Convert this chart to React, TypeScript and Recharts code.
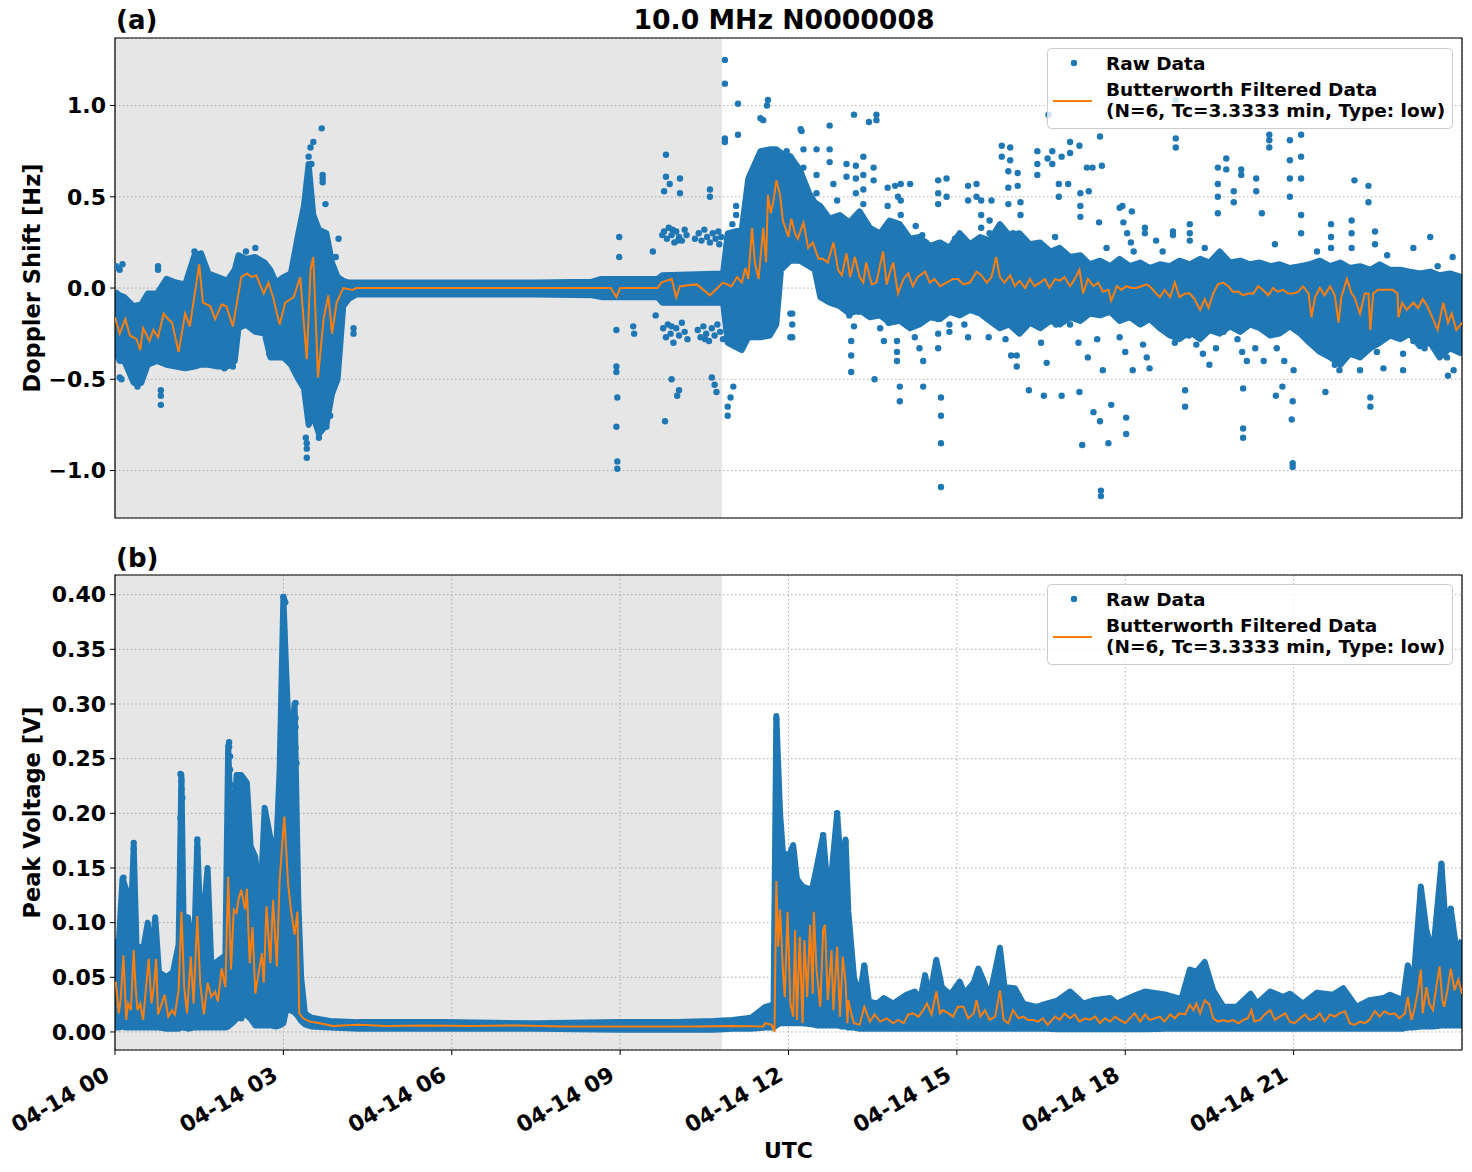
import React from 'react';
import {
  ComposedChart,
  Area,
  Line,
  Scatter,
  XAxis,
  YAxis,
  CartesianGrid,
  ReferenceArea,
} from 'recharts';

const FONT = '"DejaVu Sans", "Liberation Sans", sans-serif';
const BLUE = '#1f77b4';
const ORANGE = '#ff7f0e';

// x axis is minutes after 04-14 00:00 UTC
const hourTicks = [0, 180, 360, 540, 720, 900, 1080, 1260];
const hourLabels = ['04-14 00', '04-14 03', '04-14 06', '04-14 09', '04-14 12', '04-14 15', '04-14 18', '04-14 21'];
const nightEnd = 649;

const dopplerTicks = [-1.0, -0.5, 0.0, 0.5, 1.0];
const voltageTicks = [0, 0.05, 0.1, 0.15, 0.2, 0.25, 0.3, 0.35, 0.4];

// Doppler shift: dense raw-data envelope [minute, low, high]
const dopplerBand: [number, number, number][] = [
  [0, -0.34, -0.02], [5, -0.40, -0.04], [10, -0.40, -0.05], [20, -0.52, -0.10], [28, -0.52, -0.09],
  [35, -0.42, -0.03], [45, -0.40, -0.03], [55, -0.42, 0.05], [65, -0.43, 0.03], [75, -0.44, 0.02],
  [85, -0.43, 0.18], [92, -0.42, 0.19], [100, -0.42, 0.08], [110, -0.43, 0.06], [120, -0.43, 0.04],
  [128, -0.40, 0.10], [132, -0.22, 0.18], [140, -0.20, 0.16], [150, -0.24, 0.17], [160, -0.25, 0.14],
  [166, -0.38, 0.10], [172, -0.38, 0.03], [180, -0.38, 0.06], [188, -0.42, 0.08], [196, -0.50, 0.30],
  [202, -0.55, 0.45], [207, -0.75, 0.68], [212, -0.70, 0.40], [218, -0.80, 0.32], [226, -0.75, 0.30],
  [232, -0.58, 0.14], [238, -0.50, 0.06], [244, -0.10, 0.04], [250, -0.06, 0.03], [258, -0.035, 0.03],
  [350, -0.035, 0.03], [450, -0.035, 0.03], [510, -0.04, 0.035], [520, -0.05, 0.05], [580, -0.05, 0.05],
  [585, -0.08, 0.07], [650, -0.08, 0.08], [655, -0.30, 0.30], [670, -0.34, 0.32], [677, -0.27, 0.60],
  [690, -0.27, 0.75], [700, -0.26, 0.76], [707, -0.20, 0.76], [712, 0.10, 0.74], [722, 0.15, 0.72],
  [732, 0.15, 0.65], [742, 0.12, 0.52], [748, 0.10, 0.47], [754, -0.05, 0.45], [764, -0.08, 0.38],
  [775, -0.10, 0.40], [785, -0.14, 0.36], [796, -0.12, 0.42], [807, -0.16, 0.33], [818, -0.15, 0.30],
  [828, -0.19, 0.37], [839, -0.18, 0.35], [850, -0.22, 0.27], [860, -0.20, 0.28], [871, -0.16, 0.23],
  [882, -0.17, 0.25], [892, -0.13, 0.22], [903, -0.15, 0.30], [914, -0.12, 0.24], [925, -0.14, 0.28],
  [935, -0.18, 0.26], [946, -0.22, 0.35], [956, -0.20, 0.29], [967, -0.25, 0.30], [978, -0.19, 0.24],
  [989, -0.22, 0.25], [1000, -0.18, 0.20], [1010, -0.20, 0.22], [1021, -0.16, 0.17], [1032, -0.18, 0.18],
  [1042, -0.14, 0.13], [1053, -0.15, 0.15], [1064, -0.13, 0.12], [1074, -0.18, 0.16], [1085, -0.16, 0.12],
  [1096, -0.20, 0.14], [1106, -0.17, 0.11], [1117, -0.22, 0.13], [1128, -0.26, 0.12], [1138, -0.28, 0.15],
  [1149, -0.24, 0.13], [1160, -0.28, 0.16], [1170, -0.23, 0.14], [1181, -0.25, 0.20], [1192, -0.21, 0.14],
  [1203, -0.24, 0.15], [1213, -0.20, 0.13], [1224, -0.22, 0.14], [1235, -0.26, 0.12], [1245, -0.25, 0.13],
  [1256, -0.21, 0.11], [1267, -0.25, 0.12], [1277, -0.30, 0.13], [1288, -0.35, 0.15], [1299, -0.38, 0.12],
  [1310, -0.42, 0.14], [1320, -0.36, 0.11], [1331, -0.38, 0.12], [1342, -0.33, 0.10], [1352, -0.30, 0.13],
  [1363, -0.26, 0.10], [1374, -0.28, 0.10], [1384, -0.25, 0.09], [1395, -0.32, 0.08], [1406, -0.30, 0.09],
  [1416, -0.38, 0.07], [1427, -0.33, 0.08], [1440, -0.36, 0.06],
];

// Doppler shift: isolated raw points [minute, value]
const dopplerScatter: [number, number][] = [
  [1, 0.12], [3, 0.11], [5, 0.10], [8, 0.13], [24, -0.54], [5, -0.49], [7, -0.50], [49, -0.56], [49, -0.59],
  [49, -0.64], [46, 0.12], [46, 0.10], [85, 0.20], [150, 0.22], [140, 0.20], [117, -0.44], [126, -0.43],
  [200, 0.37], [221, 0.875], [212, 0.80], [209, 0.77], [207, 0.72], [210, 0.68], [222, 0.62], [222, 0.60],
  [222, 0.58], [225, 0.46], [239, 0.27], [236, 0.17], [205, -0.85], [205, -0.88], [205, -0.93], [204, -0.82],
  [218, -0.82], [226, -0.76], [230, -0.70], [255, -0.22], [255, -0.25], [176, -0.36], [165, -0.36],
  [536, -0.23], [536, -0.43], [536, -0.46], [537, -0.60], [536, -0.76], [537, -0.95], [537, -0.99],
  [539, 0.28], [539, 0.17], [554, -0.21], [555, -0.25], [587, 0.53], [589, 0.61], [589, 0.73], [593, 0.57],
  [588, -0.73], [595, -0.50], [601, -0.59], [603, -0.56], [604, 0.60], [604, 0.52], [636, 0.54], [636, 0.50],
  [643, -0.57], [638, -0.49], [641, -0.53], [652, 1.25], [652, 1.12], [652, 0.82], [652, 0.80], [655, -0.70],
  [655, -0.65], [661, -0.54], [658, -0.60], [666, 1.01], [666, 0.84], [664, 0.45], [664, 0.40], [660, 0.35],
  [693, 0.92], [690, 0.93], [697, 1.00], [698, 1.03], [722, -0.14], [722, -0.27], [718, 0.75], [734, 0.86],
  [733, 0.87], [575, 0.20], [578, -0.15],
  [764, 0.89], [790, 0.95], [814, 0.95], [814, 0.92], [806, 0.91], [812, -0.50],
  [839, -0.54], [839, -0.62], [864, -0.54], [883, -0.60], [883, -0.70], [883, -0.85], [883, -1.09],
  [889, 0.60], [889, 0.50], [850, 0.57], [834, 0.56], [837, 0.50], [921, 0.57], [921, 0.50], [937, 0.48],
  [1054, -1.11], [1054, -1.14], [1034, -0.86], [1062, -0.85], [1046, -0.68], [1053, -0.73], [1081, -0.71],
  [1081, -0.80], [1065, -0.64], [1144, -0.56], [1144, -0.65], [1206, -0.77], [1206, -0.82], [1206, -0.55],
  [1259, -0.96], [1259, -0.98], [1258, -0.72], [1259, -0.62], [1241, -0.59], [1248, -0.54], [1342, -0.65],
  [1342, -0.60], [1425, -0.48], [1294, -0.57], [1012, -0.59], [993, -0.59], [977, -0.56], [1031, -0.57],
  [1053, 0.83], [998, 0.95], [1134, 1.03], [1134, 0.82], [1134, 0.77], [1234, 0.77], [957, 0.77], [957, 0.70],
  [965, 0.63], [965, 0.56], [997, 0.71], [1012, 0.72], [1031, 0.78], [1039, 0.66], [1019, 0.57], [1041, 0.53],
  [1055, 0.67], [1077, 0.45], [1087, 0.42],
];

// Doppler shift: clumps of raw points above and below the dense band [minute, value]
const dopplerClumps: [number, number][] = [
  [585, 0.29], [587, 0.31], [590, 0.27], [592, 0.33], [595, 0.29], [598, 0.25], [600, 0.31], [603, 0.28],
  [606, 0.26], [609, 0.32], [611, 0.29], [596, 0.32], [602, 0.26], [624, 0.30], [627, 0.26], [630, 0.32],
  [633, 0.28], [636, 0.25], [639, 0.30], [642, 0.27], [645, 0.31], [648, 0.28], [646, 0.24], [620, 0.27],
  [586, -0.22], [589, -0.27], [591, -0.20], [594, -0.25], [597, -0.30], [600, -0.22], [603, -0.26],
  [606, -0.19], [609, -0.24], [612, -0.28], [623, -0.23], [626, -0.27], [629, -0.21], [632, -0.25],
  [635, -0.29], [638, -0.22], [641, -0.26], [644, -0.20], [647, -0.24], [650, -0.28], [595, -0.21], [631, -0.28],
  [722, 0.72], [722, 0.62], [722, 0.53], [736, 0.76], [736, 0.66], [736, 0.55], [736, 0.45], [736, 0.39],
  [750, 0.76], [750, 0.62], [750, 0.52], [750, 0.44], [764, 0.76], [764, 0.69], [768, 0.57], [772, 0.48],
  [775, 0.38], [779, 0.30], [782, 0.68], [782, 0.61], [792, 0.67], [792, 0.60], [792, 0.52], [800, 0.72],
  [800, 0.62], [800, 0.54], [800, 0.46], [811, 0.66], [811, 0.59], [826, 0.55], [826, 0.45], [826, 0.35],
  [826, 0.26], [840, 0.57], [840, 0.48], [840, 0.40], [840, 0.33], [856, 0.34], [863, 0.29], [867, 0.25],
  [870, 0.22], [880, 0.59], [880, 0.52], [880, 0.46], [898, 0.27], [912, 0.56], [912, 0.48], [926, 0.48],
  [926, 0.40], [926, 0.33], [935, 0.37], [935, 0.30], [948, 0.78], [948, 0.72], [955, 0.64], [955, 0.55],
  [955, 0.46], [968, 0.47], [968, 0.40], [986, 0.75], [986, 0.68], [986, 0.62], [1002, 0.75], [1002, 0.68],
  [1009, 0.57], [1009, 0.50], [1021, 0.80], [1021, 0.74], [1032, 0.52], [1032, 0.45], [1032, 0.39],
  [1045, 0.66], [1052, 0.36], [1074, 0.44], [1078, 0.36], [1082, 0.30], [1086, 0.25], [1089, 0.20],
  [1101, 0.33], [1101, 0.30], [1113, 0.26], [1131, 0.31], [1131, 0.29], [1149, 0.35], [1149, 0.30],
  [1149, 0.26], [1179, 0.66], [1179, 0.57], [1179, 0.50], [1179, 0.41], [1188, 0.71], [1188, 0.65],
  [1196, 0.53], [1196, 0.47], [1204, 0.65], [1204, 0.62], [1220, 0.60], [1220, 0.53], [1226, 0.41],
  [1234, 0.84], [1234, 0.81], [1256, 0.81], [1256, 0.70], [1256, 0.60], [1256, 0.50], [1268, 0.84],
  [1268, 0.72], [1268, 0.60], [1268, 0.40], [1268, 0.30], [1300, 0.35], [1300, 0.28], [1300, 0.22],
  [1322, 0.37], [1322, 0.30], [1322, 0.22], [1325, 0.59], [1340, 0.56], [1340, 0.47], [1347, 0.31],
  [1347, 0.24], [1388, 0.22], [1406, 0.28], [1414, 0.12], [960, 0.30], [1005, 0.28], [1060, 0.22],
  [1120, 0.20], [1165, 0.22], [1240, 0.24], [1285, 0.20], [1360, 0.18], [1430, 0.17],
  [724, -0.14], [724, -0.20], [724, -0.27], [780, -0.10], [785, -0.15], [790, -0.21], [795, -0.13],
  [787, -0.29], [787, -0.37], [787, -0.46], [813, -0.15], [818, -0.22], [822, -0.29], [827, -0.19],
  [836, -0.29], [836, -0.35], [836, -0.40], [850, -0.20], [855, -0.27], [860, -0.33], [864, -0.40],
  [880, -0.17], [880, -0.25], [880, -0.33], [892, -0.20], [892, -0.24], [905, -0.13], [908, -0.20],
  [912, -0.27], [934, -0.27], [948, -0.20], [952, -0.28], [958, -0.37], [964, -0.37], [964, -0.43],
  [986, -0.20], [990, -0.30], [996, -0.41], [1006, -0.13], [1006, -0.20], [1021, -0.20], [1030, -0.30],
  [1040, -0.38], [1050, -0.28], [1056, -0.45], [1074, -0.27], [1080, -0.35], [1088, -0.45], [1099, -0.31],
  [1103, -0.38], [1106, -0.44], [1119, -0.20], [1126, -0.25], [1133, -0.30], [1139, -0.22], [1156, -0.31],
  [1163, -0.36], [1170, -0.42], [1177, -0.33], [1196, -0.20], [1200, -0.28], [1205, -0.35], [1210, -0.40],
  [1219, -0.33], [1228, -0.40], [1242, -0.33], [1250, -0.40], [1260, -0.45], [1288, -0.20], [1293, -0.28],
  [1298, -0.35], [1304, -0.42], [1309, -0.45], [1324, -0.33], [1331, -0.45], [1349, -0.35], [1356, -0.44],
  [1377, -0.27], [1377, -0.36], [1377, -0.45], [1388, -0.24], [1388, -0.29], [1417, -0.31], [1424, -0.38],
  [1431, -0.45], [1148, -0.26], [1185, -0.24], [1236, -0.25], [1275, -0.24], [1315, -0.38], [1400, -0.33],
];

// Doppler shift: Butterworth low-pass output [minute, value]
const dopplerFiltered: [number, number][] = [
  [0, -0.16], [5, -0.25], [11, -0.17], [16, -0.26], [23, -0.28], [27, -0.34], [30, -0.22], [37, -0.29],
  [41, -0.23], [46, -0.27], [52, -0.14], [55, -0.16], [61, -0.19], [68, -0.35], [75, -0.14], [80, -0.21],
  [90, 0.13], [94, -0.08], [102, -0.10], [107, -0.17], [114, -0.09], [119, -0.10], [126, -0.21], [135, 0.06],
  [141, 0.08], [146, 0.06], [151, 0.07], [159, -0.03], [164, 0.03], [169, -0.05], [176, -0.20], [182, -0.08],
  [191, -0.05], [198, 0.06], [205, -0.39], [209, 0.10], [212, 0.17], [217, -0.49], [223, -0.17], [228, -0.04],
  [232, -0.25], [237, -0.08], [244, 0.0], [254, -0.01], [258, 0.0], [360, 0.0], [480, 0.0], [530, 0.0],
  [536, -0.05], [540, 0.0], [580, 0.0], [584, 0.03], [595, 0.05], [600, -0.05], [604, 0.01], [622, 0.02],
  [636, -0.04], [650, 0.03], [659, 0.01], [665, 0.06], [670, 0.03], [674, 0.11], [677, 0.05], [681, 0.33],
  [684, 0.14], [688, 0.05], [693, 0.33], [696, 0.14], [698, 0.51], [701, 0.41], [704, 0.48], [707, 0.59],
  [711, 0.51], [714, 0.37], [720, 0.28], [723, 0.38], [727, 0.30], [730, 0.27], [736, 0.36], [741, 0.22],
  [746, 0.25], [752, 0.16], [757, 0.16], [762, 0.14], [768, 0.25], [773, 0.10], [777, 0.07], [782, 0.19],
  [786, 0.06], [791, 0.17], [796, 0.06], [800, 0.03], [803, 0.14], [809, 0.02], [814, 0.03], [821, 0.20],
  [825, 0.02], [828, 0.08], [832, 0.14], [837, -0.03], [843, 0.05], [848, 0.08], [853, 0.01], [858, 0.06],
  [866, 0.09], [871, 0.03], [876, 0.05], [882, 0.01], [889, 0.03], [896, 0.05], [901, 0.05], [907, 0.02],
  [914, 0.03], [921, 0.09], [926, 0.07], [932, 0.03], [937, 0.06], [942, 0.17], [946, 0.06], [951, 0.03],
  [957, 0.07], [962, 0.01], [967, 0.04], [973, 0.0], [978, 0.05], [983, 0.01], [989, 0.03], [994, 0.05],
  [999, 0.0], [1005, 0.05], [1010, 0.04], [1015, 0.06], [1021, 0.01], [1026, 0.05], [1031, 0.10],
  [1035, -0.03], [1040, 0.05], [1046, 0.01], [1051, 0.03], [1056, -0.02], [1062, -0.01], [1065, -0.07],
  [1071, 0.01], [1076, -0.01], [1081, 0.01], [1087, 0.0], [1092, 0.0], [1097, 0.01], [1103, 0.02],
  [1108, 0.0], [1113, -0.03], [1117, -0.05], [1122, -0.01], [1128, -0.05], [1133, 0.03], [1138, -0.05],
  [1144, -0.03], [1149, -0.03], [1154, -0.06], [1160, -0.12], [1165, -0.06], [1169, -0.11], [1174, -0.03],
  [1179, 0.02], [1185, 0.03], [1190, 0.01], [1195, -0.02], [1201, -0.02], [1206, -0.04], [1211, -0.03],
  [1217, -0.03], [1222, 0.01], [1227, -0.01], [1233, -0.04], [1238, 0.0], [1243, -0.02], [1249, -0.01],
  [1254, -0.03], [1260, -0.03], [1265, -0.02], [1270, 0.01], [1276, -0.03], [1279, -0.16], [1283, -0.05],
  [1288, 0.0], [1293, -0.04], [1299, 0.01], [1304, -0.04], [1308, -0.19], [1311, -0.05], [1317, 0.05],
  [1322, -0.03], [1325, -0.05], [1331, -0.14], [1336, -0.03], [1340, -0.03], [1342, -0.23], [1345, -0.03],
  [1350, -0.01], [1355, -0.01], [1361, -0.01], [1366, -0.01], [1371, -0.03], [1372, -0.16], [1376, -0.08],
  [1381, -0.12], [1388, -0.08], [1393, -0.11], [1398, -0.06], [1403, -0.10], [1409, -0.17], [1414, -0.23],
  [1420, -0.08], [1425, -0.19], [1429, -0.14], [1434, -0.23], [1440, -0.19],
];

// Peak voltage: dense raw-data envelope [minute, low, high]
const voltageBand: [number, number, number][] = [
  [0, 0.004, 0.085], [4, 0.004, 0.08], [8, 0.005, 0.14], [12, 0.004, 0.13], [15, 0.004, 0.06],
  [20, 0.004, 0.17], [23, 0.004, 0.08], [30, 0.004, 0.075], [35, 0.004, 0.10], [38, 0.004, 0.06],
  [43, 0.004, 0.105], [47, 0.004, 0.055], [55, 0.003, 0.05], [62, 0.003, 0.055], [68, 0.003, 0.08],
  [71, 0.004, 0.235], [74, 0.004, 0.06], [78, 0.003, 0.105], [84, 0.004, 0.06], [88, 0.004, 0.175],
  [92, 0.004, 0.08], [99, 0.004, 0.15], [103, 0.004, 0.06], [110, 0.004, 0.065], [118, 0.004, 0.07],
  [121, 0.005, 0.262], [125, 0.008, 0.16], [130, 0.012, 0.235], [135, 0.018, 0.235], [141, 0.015, 0.228],
  [145, 0.012, 0.17], [150, 0.006, 0.16], [155, 0.006, 0.112], [160, 0.006, 0.205], [166, 0.006, 0.178],
  [172, 0.005, 0.16], [176, 0.006, 0.24], [180, 0.008, 0.398], [183, 0.02, 0.33], [187, 0.02, 0.25],
  [192, 0.018, 0.30], [196, 0.014, 0.12], [199, 0.010, 0.05], [203, 0.007, 0.017], [210, 0.005, 0.013],
  [230, 0.004, 0.010], [260, 0.003, 0.009], [350, 0.003, 0.009], [450, 0.003, 0.008], [540, 0.002, 0.009],
  [600, 0.002, 0.009], [640, 0.002, 0.010], [660, 0.003, 0.011], [680, 0.003, 0.013], [695, 0.004, 0.023],
  [704, 0.004, 0.025], [707, 0.006, 0.289], [711, 0.008, 0.20], [714, 0.008, 0.165], [720, 0.008, 0.16],
  [725, 0.008, 0.171], [729, 0.008, 0.14], [735, 0.008, 0.133], [745, 0.007, 0.13], [750, 0.006, 0.15],
  [757, 0.006, 0.18], [761, 0.006, 0.14], [766, 0.006, 0.145], [772, 0.006, 0.20], [777, 0.005, 0.14],
  [781, 0.005, 0.176], [784, 0.004, 0.11], [790, 0.004, 0.05], [796, 0.003, 0.032], [801, 0.003, 0.061],
  [806, 0.003, 0.028], [815, 0.003, 0.026], [822, 0.003, 0.031], [832, 0.003, 0.026], [846, 0.003, 0.034],
  [855, 0.003, 0.037], [861, 0.003, 0.030], [866, 0.003, 0.052], [871, 0.003, 0.032], [878, 0.003, 0.066],
  [884, 0.003, 0.041], [893, 0.003, 0.034], [903, 0.003, 0.046], [908, 0.003, 0.035], [918, 0.003, 0.045],
  [923, 0.003, 0.058], [928, 0.003, 0.048], [935, 0.003, 0.032], [946, 0.003, 0.077], [951, 0.003, 0.041],
  [962, 0.003, 0.040], [971, 0.003, 0.026], [985, 0.003, 0.023], [996, 0.003, 0.026], [1008, 0.0025, 0.029],
  [1021, 0.0025, 0.037], [1035, 0.0025, 0.026], [1046, 0.0025, 0.029], [1064, 0.0025, 0.031],
  [1071, 0.0025, 0.026], [1092, 0.0025, 0.034], [1101, 0.0025, 0.037], [1124, 0.003, 0.034], [1140, 0.003, 0.030],
  [1149, 0.003, 0.057], [1156, 0.003, 0.055], [1165, 0.003, 0.064], [1174, 0.003, 0.038], [1185, 0.003, 0.023],
  [1199, 0.003, 0.023], [1214, 0.003, 0.035], [1221, 0.003, 0.026], [1235, 0.003, 0.037], [1249, 0.003, 0.032],
  [1256, 0.003, 0.035], [1270, 0.003, 0.026], [1285, 0.003, 0.036], [1302, 0.003, 0.034], [1313, 0.003, 0.040],
  [1327, 0.003, 0.023], [1341, 0.003, 0.029], [1356, 0.003, 0.031], [1363, 0.003, 0.034], [1377, 0.003, 0.029],
  [1382, 0.004, 0.061], [1388, 0.004, 0.045], [1396, 0.005, 0.133], [1402, 0.005, 0.093], [1409, 0.005, 0.072],
  [1418, 0.006, 0.154], [1424, 0.006, 0.08], [1428, 0.006, 0.113], [1434, 0.006, 0.075], [1440, 0.006, 0.084],
];

// Peak voltage: isolated raw points [minute, value]
const voltageScatter: [number, number][] = [
  [9, 0.141], [9, 0.137], [9, 0.13], [20, 0.173], [20, 0.168], [20, 0.16], [20, 0.153],
  [70, 0.236], [71, 0.230], [71, 0.222], [72, 0.214], [71, 0.205], [70, 0.196], [71, 0.186],
  [88, 0.176], [88, 0.168], [122, 0.265], [122, 0.261], [123, 0.252], [123, 0.240], [124, 0.226],
  [135, 0.0125], [180, 0.398], [181, 0.395], [182, 0.393], [180, 0.376], [181, 0.366], [180, 0.356],
  [181, 0.344], [182, 0.331], [193, 0.301], [193, 0.287], [193, 0.279], [193, 0.26], [194, 0.246],
  [707, 0.286], [707, 0.275], [707, 0.263], [707, 0.258], [708, 0.25], [707, 0.241], [708, 0.233],
  [707, 0.223], [708, 0.215], [772, 0.200], [772, 0.196], [772, 0.178], [772, 0.17], [781, 0.174],
  [781, 0.165], [781, 0.156], [757, 0.18], [757, 0.175], [758, 0.168], [801, 0.06], [801, 0.055],
  [1418, 0.153], [1418, 0.148], [1418, 0.14], [1418, 0.131], [1396, 0.131], [1396, 0.127], [1396, 0.118],
  [1428, 0.112], [1428, 0.103],
];

// Peak voltage: Butterworth low-pass output [minute, value]
const voltageFiltered: [number, number][] = [
  [0, 0.045], [1, 0.045], [4, 0.017], [6, 0.029], [9, 0.070], [12, 0.011], [14, 0.026], [17, 0.020],
  [20, 0.075], [22, 0.041], [24, 0.020], [27, 0.026], [30, 0.011], [34, 0.048], [36, 0.067], [39, 0.026],
  [42, 0.045], [44, 0.067], [46, 0.016], [50, 0.026], [53, 0.034], [57, 0.014], [61, 0.020], [64, 0.016],
  [68, 0.038], [71, 0.110], [74, 0.041], [77, 0.017], [81, 0.069], [84, 0.026], [88, 0.106], [91, 0.045],
  [95, 0.016], [99, 0.045], [103, 0.032], [107, 0.037], [110, 0.028], [114, 0.058], [118, 0.041],
  [121, 0.142], [124, 0.057], [127, 0.112], [130, 0.109], [132, 0.121], [135, 0.130], [139, 0.112],
  [141, 0.131], [144, 0.063], [147, 0.096], [150, 0.035], [153, 0.051], [157, 0.072], [159, 0.045],
  [162, 0.115], [166, 0.063], [169, 0.121], [173, 0.060], [176, 0.139], [181, 0.197], [185, 0.136],
  [188, 0.112], [192, 0.089], [195, 0.110], [197, 0.017], [201, 0.0125], [208, 0.0095], [219, 0.008],
  [233, 0.0055], [260, 0.0065], [290, 0.0055], [330, 0.006], [380, 0.0055], [430, 0.006], [480, 0.005],
  [530, 0.005], [572, 0.005], [620, 0.005], [660, 0.0055], [693, 0.005], [695, 0.008], [702, 0.0065],
  [705, 0.0], [707, 0.138], [709, 0.078], [711, 0.112], [714, 0.057], [716, 0.032], [719, 0.110],
  [722, 0.026], [725, 0.014], [727, 0.093], [729, 0.011], [732, 0.087], [735, 0.008], [737, 0.084],
  [740, 0.032], [743, 0.098], [746, 0.035], [747, 0.110], [750, 0.057], [754, 0.023], [757, 0.093],
  [759, 0.098], [762, 0.029], [766, 0.075], [768, 0.020], [772, 0.078], [775, 0.014], [778, 0.069],
  [781, 0.045], [783, 0.008], [784, 0.029], [787, 0.017], [790, 0.008], [796, 0.0065], [801, 0.023],
  [807, 0.0095], [812, 0.016], [818, 0.0095], [825, 0.0125], [832, 0.008], [837, 0.011], [843, 0.008],
  [848, 0.016], [853, 0.017], [859, 0.014], [864, 0.020], [868, 0.026], [873, 0.016], [878, 0.037],
  [882, 0.017], [885, 0.020], [891, 0.017], [896, 0.014], [901, 0.023], [907, 0.023], [912, 0.0125],
  [918, 0.017], [921, 0.029], [925, 0.014], [930, 0.020], [935, 0.011], [941, 0.014], [946, 0.038],
  [950, 0.011], [955, 0.008], [960, 0.020], [966, 0.0125], [971, 0.014], [976, 0.011], [982, 0.011],
  [987, 0.0095], [992, 0.0125], [997, 0.0065], [1005, 0.014], [1010, 0.011], [1015, 0.017], [1021, 0.0125],
  [1026, 0.016], [1031, 0.0095], [1037, 0.0125], [1042, 0.011], [1048, 0.014], [1053, 0.008], [1058, 0.0125],
  [1064, 0.0095], [1069, 0.014], [1074, 0.011], [1080, 0.008], [1085, 0.0125], [1090, 0.017], [1096, 0.0095],
  [1101, 0.016], [1106, 0.011], [1112, 0.0125], [1117, 0.014], [1122, 0.0095], [1128, 0.016], [1133, 0.0125],
  [1138, 0.017], [1144, 0.016], [1149, 0.025], [1153, 0.020], [1156, 0.026], [1160, 0.017], [1165, 0.029],
  [1170, 0.025], [1174, 0.0125], [1179, 0.0095], [1185, 0.011], [1190, 0.0095], [1195, 0.011], [1201, 0.008],
  [1206, 0.011], [1211, 0.0125], [1215, 0.020], [1218, 0.0095], [1224, 0.011], [1229, 0.016], [1235, 0.020],
  [1240, 0.011], [1245, 0.014], [1251, 0.017], [1256, 0.0095], [1261, 0.008], [1267, 0.0125], [1272, 0.016],
  [1277, 0.011], [1283, 0.0125], [1288, 0.017], [1293, 0.0095], [1299, 0.016], [1304, 0.014], [1309, 0.017],
  [1315, 0.019], [1320, 0.008], [1325, 0.0065], [1331, 0.0095], [1336, 0.008], [1341, 0.011], [1347, 0.019],
  [1352, 0.014], [1357, 0.019], [1363, 0.016], [1368, 0.017], [1373, 0.0125], [1379, 0.017], [1382, 0.032],
  [1386, 0.011], [1389, 0.020], [1393, 0.038], [1396, 0.057], [1398, 0.017], [1402, 0.041], [1405, 0.026],
  [1409, 0.020], [1412, 0.038], [1416, 0.060], [1419, 0.029], [1421, 0.023], [1425, 0.041], [1428, 0.058],
  [1432, 0.038], [1436, 0.048], [1440, 0.035],
];

const toBand = (rows: [number, number, number][]) => rows.map(([t, lo, hi]) => ({ t, range: [lo, hi] }));
const toPoints = (rows: [number, number][]) => rows.map(([t, v]) => ({ t, v }));

const minus = (s: string) => s.replace('-', '\u2212');

const tickStyle = { fontSize: 22, fontWeight: 'bold', fill: '#000', fontFamily: FONT };

const DateTick = ({ x, y, payload }: any) => {
  const label = hourLabels[hourTicks.indexOf(payload.value)];
  return (
    <g transform={`translate(${x - 4},${y + 20})`}>
      <text textAnchor="end" transform="rotate(-30)" fontSize={22} fontWeight="bold" fill="#000" fontFamily={FONT}>
        {label}
      </text>
    </g>
  );
};

const SideTitle = ({ viewBox, text }: any) => {
  const cx = viewBox.x + 32;
  const cy = viewBox.y + viewBox.height / 2;
  return (
    <text
      x={cx}
      y={cy}
      transform={`rotate(-90 ${cx} ${cy})`}
      textAnchor="middle"
      dominantBaseline="central"
      fontSize={22.5}
      fontWeight="bold"
      fill="#000"
      fontFamily={FONT}
    >
      {text}
    </text>
  );
};

const Dot = (p: any) => <circle cx={p.cx} cy={p.cy} r={3.2} fill={BLUE} />;

interface PanelProps {
  height: number;
  top: number;
  xAxisHeight: number;
  band: [number, number, number][];
  scatter: [number, number][];
  filtered: [number, number][];
  domain: [number, number];
  ticks: number[];
  digits: number;
  yLabel: string;
  showDates: boolean;
}

const Panel = ({ height, top, xAxisHeight, band, scatter, filtered, domain, ticks, digits, yLabel, showDates }: PanelProps) => (
  <ComposedChart width={1472} height={height} margin={{ top, right: 10, left: 0, bottom: 0 }}>
    <CartesianGrid stroke="#b0b0b0" strokeDasharray="1.5 2.5" />
    <ReferenceArea x1={0} x2={nightEnd} fill="#808080" fillOpacity={0.2} stroke="none" ifOverflow="hidden" />
    <XAxis
      dataKey="t"
      type="number"
      domain={[0, 1440]}
      ticks={hourTicks}
      allowDataOverflow
      axisLine={false}
      tickSize={5}
      tickMargin={4}
      tickLine={{ stroke: '#000' }}
      height={xAxisHeight}
      tick={showDates ? <DateTick /> : false}
      label={showDates ? { value: 'UTC', position: 'insideBottom', offset: 14, fill: '#000', fontSize: 22, fontWeight: 'bold', fontFamily: FONT } : undefined}
    />
    <YAxis
      type="number"
      domain={domain}
      ticks={ticks}
      allowDataOverflow
      axisLine={false}
      width={115}
      tickSize={5}
      tickMargin={4}
      tickLine={{ stroke: '#000' }}
      tick={tickStyle}
      tickFormatter={(v: number) => minus(v.toFixed(digits))}
      label={<SideTitle text={yLabel} />}
    />
    <Area
      data={toBand(band)}
      dataKey="range"
      type="linear"
      fill={BLUE}
      fillOpacity={1}
      stroke={BLUE}
      strokeWidth={6}
      strokeLinejoin="round"
      isAnimationActive={false}
      activeDot={false}
    />
    <Scatter data={toPoints(scatter)} dataKey="v" shape={Dot} isAnimationActive={false} />
    <Line
      data={toPoints(filtered)}
      dataKey="v"
      type="linear"
      stroke={ORANGE}
      strokeWidth={2}
      dot={false}
      activeDot={false}
      isAnimationActive={false}
    />
    <ReferenceArea x1={0} x2={1440} fill="none" stroke="#000" strokeWidth={1.2} ifOverflow="visible" />
  </ComposedChart>
);

const LegendBox = ({ y }: { y: number }) => (
  <g fontFamily={FONT} fontWeight="bold" fontSize={18.5} fill="#000">
    <rect x={1047.5} y={y + 0.5} width={405} height={80} rx={4} fill="#fff" fillOpacity={0.8} stroke="#cccccc" />
    <circle cx={1074} cy={y + 15} r={3.2} fill={BLUE} />
    <text x={1106} y={y + 22}>Raw Data</text>
    <line x1={1053} x2={1092} y1={y + 53} y2={y + 53} stroke={ORANGE} strokeWidth={2} />
    <text x={1106} y={y + 48}>Butterworth Filtered Data</text>
    <text x={1106} y={y + 69}>(N=6, Tc=3.3333 min, Type: low)</text>
  </g>
);

export default function App() {
  return (
    <div style={{ position: 'absolute', left: 0, top: 0, width: 1472, height: 1172, background: '#fff', fontFamily: FONT }}>
      <div style={{ position: 'absolute', left: 0, top: 0 }}>
        <Panel
          height={540}
          top={38}
          xAxisHeight={22}
          band={dopplerBand}
          scatter={[...dopplerScatter, ...dopplerClumps]}
          filtered={dopplerFiltered}
          domain={[-1.26, 1.37]}
          ticks={dopplerTicks}
          digits={1}
          yLabel="Doppler Shift [Hz]"
          showDates={false}
        />
      </div>
      <div style={{ position: 'absolute', left: 0, top: 540 }}>
        <Panel
          height={632}
          top={35}
          xAxisHeight={122}
          band={voltageBand}
          scatter={voltageScatter}
          filtered={voltageFiltered}
          domain={[-0.0165, 0.418]}
          ticks={voltageTicks}
          digits={2}
          yLabel="Peak Voltage [V]"
          showDates
        />
      </div>
      <svg width={1472} height={1172} style={{ position: 'absolute', left: 0, top: 0, pointerEvents: 'none' }}>
        <g fontFamily={FONT} fontWeight="bold" fill="#000">
          <text x={116} y={29} fontSize={26}>(a)</text>
          <text x={784} y={29} fontSize={26.7} textAnchor="middle">10.0 MHz N0000008</text>
          <text x={116} y={567} fontSize={26}>(b)</text>
        </g>
        <LegendBox y={48} />
        <LegendBox y={584} />
      </svg>
    </div>
  );
}
